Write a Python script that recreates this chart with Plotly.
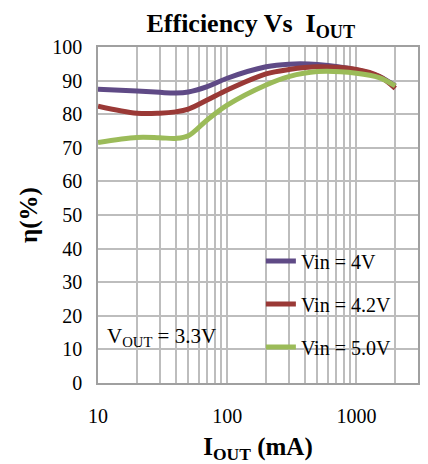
import plotly.graph_objects as go

iout = [10, 20, 30, 40, 50, 70, 100, 200, 300, 500, 1000, 1500, 2000]
eff_4v = [87.4, 86.9, 86.5, 86.3, 86.6, 88.2, 90.7, 94.1, 94.9, 94.8, 93.2, 91.2, 88.4]
eff_42v = [82.4, 80.3, 80.3, 80.7, 81.5, 84.2, 87.2, 92.0, 93.3, 94.1, 93.3, 91.3, 87.7]
eff_5v = [71.6, 73.1, 73.0, 72.8, 73.6, 78.3, 82.7, 88.7, 91.2, 92.7, 92.2, 90.9, 88.4]

series_names = ["Vin = 4V", "Vin = 4.2V", "Vin = 5.0V"]
series_colors = ["#5F4A86", "#9A3936", "#9BBB59"]

grid_vals = [10, 20, 30, 40, 50, 60, 70, 80, 90,
             100, 200, 300, 400, 500, 600, 700, 800, 900,
             1000, 2000, 3000]
grid_text = ["10" if v == 10 else "100" if v == 100 else "1000" if v == 1000 else "" for v in grid_vals]

FONT = "Liberation Serif, Times New Roman, serif"

fig = go.Figure()
for name, ys, col in zip(series_names, [eff_4v, eff_42v, eff_5v], series_colors):
    fig.add_trace(go.Scatter(
        x=iout, y=ys, name=name, mode="lines",
        line=dict(color=col, width=5, shape="spline", smoothing=1.0),
        legendgroup=name,
    ))

fig.update_layout(
    width=428, height=464,
    margin=dict(l=98, r=10, t=47, b=81, autoexpand=False),
    paper_bgcolor="white", plot_bgcolor="white",
    font=dict(family=FONT, size=20, color="black"),
    title=dict(text="<b>Efficiency Vs  I<sub>OUT</sub></b>", x=0.586, xanchor="center",
               y=0.97, yanchor="top", font=dict(size=26, family=FONT, color="black")),
    showlegend=True,
    legend=dict(x=0.509, y=0.421, xanchor="left", yanchor="top",
                bgcolor="rgba(0,0,0,0)", font=dict(size=20, family=FONT, color="black"),
                tracegroupgap=14, itemwidth=30),
    annotations=[dict(text="V<sub>OUT</sub> = 3.3V", x=0.022, y=0.137, xref="paper", yref="paper",
                      xanchor="left", yanchor="middle", showarrow=False,
                      font=dict(size=21, family=FONT, color="black"))],
)
fig.update_xaxes(type="log", range=[1, 3.477], tickvals=grid_vals, ticktext=grid_text,
                 showgrid=True, gridcolor="#BDBDBD", gridwidth=1.5,
                 showline=True, linecolor="#A0A0A0", linewidth=1.5, mirror=True,
                 ticks="", ticklabelstandoff=14, automargin=False,
                 tickfont=dict(size=20, family=FONT, color="black"),
                 title=dict(text="<b>I<sub>OUT</sub> (mA)</b>", font=dict(size=25, family=FONT, color="black"), standoff=19))
fig.update_yaxes(range=[0, 100], dtick=10, showgrid=True, gridcolor="#BDBDBD", gridwidth=1.5,
                 showline=True, linecolor="#A0A0A0", linewidth=1.5, mirror=True,
                 ticks="", ticklabelstandoff=10, zeroline=False, automargin=False,
                 tickfont=dict(size=20, family=FONT, color="black"),
                 title=dict(text="<b>η(%)</b>", font=dict(size=25, family=FONT, color="black"), standoff=8))

fig.write_html("out.html", config={"displayModeBar": False},
               post_script="document.body.style.margin='0px';document.body.style.overflow='hidden';")
